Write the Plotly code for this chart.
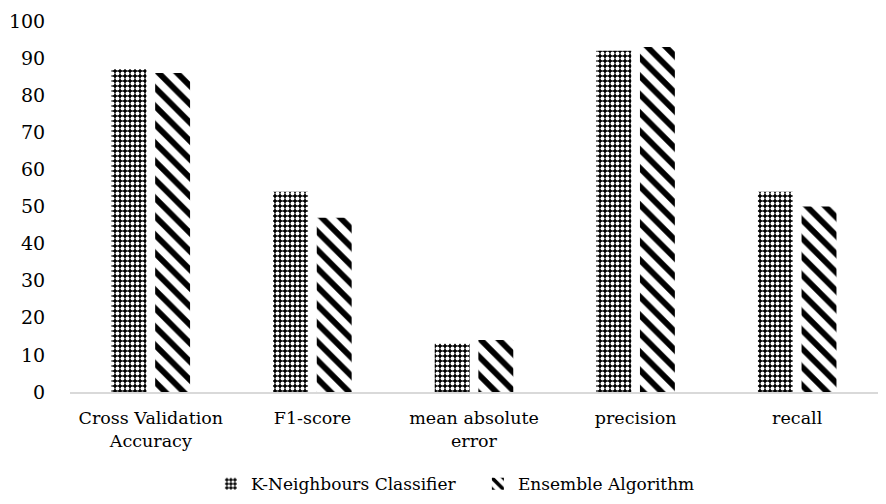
import plotly.graph_objects as go

categories = ["Cross Validation<br>Accuracy", "F1-score", "mean absolute<br>error", "precision", "recall"]
knn_values = [87, 54, 13, 92, 54]
ensemble_values = [86, 47, 14, 93, 50]
y_ticks = [0, 10, 20, 30, 40, 50, 60, 70, 80, 90, 100]

font_family = "DejaVu Serif"

fig = go.Figure()
fig.add_trace(go.Bar(
    name="K-Neighbours Classifier",
    x=categories, y=knn_values,
    marker=dict(color="black", line=dict(width=0),
                pattern=dict(shape=".", fgcolor="white", bgcolor="black", size=5,
                             solidity=0.5, fgopacity=1)),
))
fig.add_trace(go.Bar(
    name="Ensemble Algorithm",
    x=categories, y=ensemble_values,
    marker=dict(color="white", line=dict(width=0),
                pattern=dict(shape="\\", fgcolor="black", bgcolor="white", size=13,
                             solidity=0.45, fgopacity=1)),
))

fig.update_layout(
    width=886, height=504,
    margin=dict(l=62, r=16, t=13, b=120, autoexpand=False),
    paper_bgcolor="white", plot_bgcolor="white",
    barmode="group", bargap=0.46, bargroupgap=0.2,
    font=dict(family=font_family, size=17, color="black"),
    showlegend=True,
    legend=dict(orientation="h", xref="container", x=0.229, xanchor="left",
                y=-0.2, yanchor="top", entrywidth=222,
                font=dict(size=17), itemwidth=30, traceorder="normal"),
    xaxis=dict(showgrid=False, showline=True, linecolor="#d9d9d9", linewidth=1.5,
               ticks="outside", ticklen=9, tickcolor="rgba(0,0,0,0)",
               tickfont=dict(size=17.5), zeroline=False),
    yaxis=dict(range=[0, 100], tickvals=y_ticks, showgrid=False, zeroline=False,
               showline=False, ticks="outside", ticklen=20, tickcolor="rgba(0,0,0,0)",
               tickfont=dict(size=19)),
)

fig.write_html("out.html")
